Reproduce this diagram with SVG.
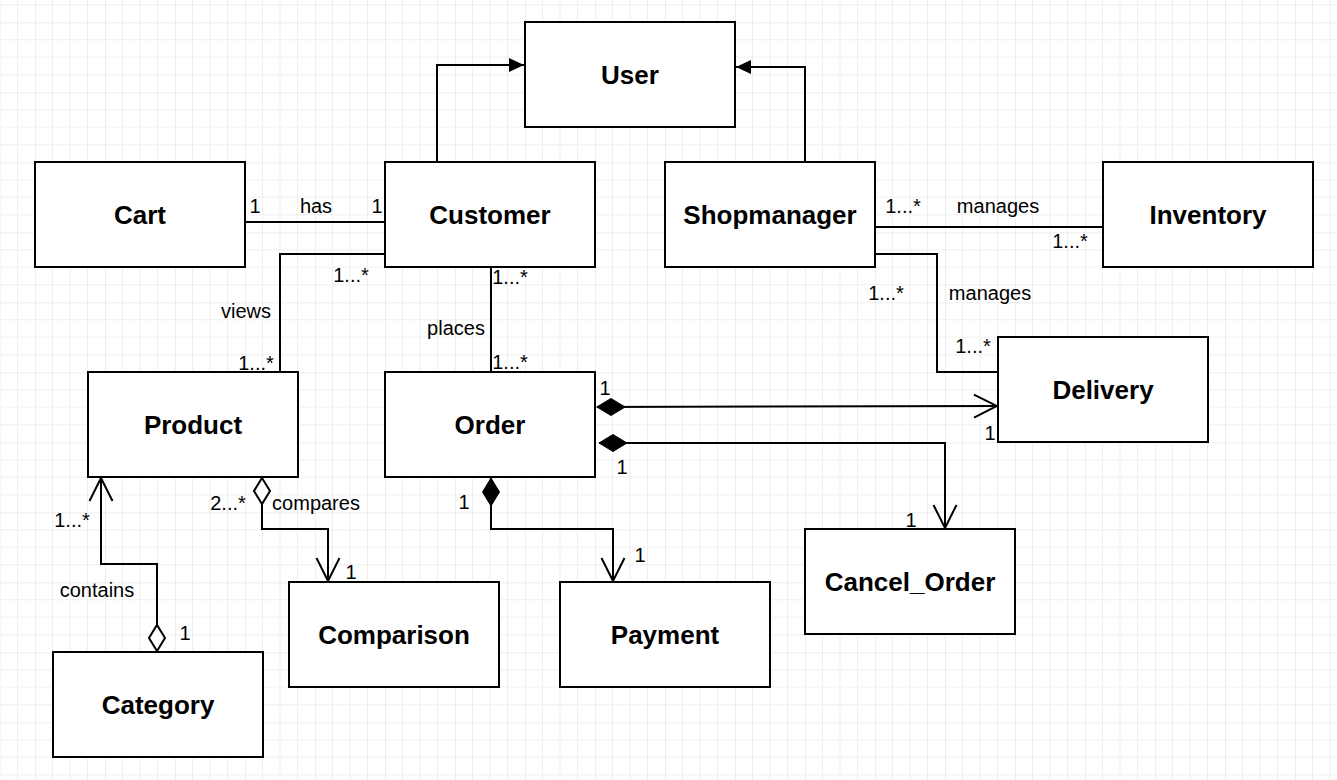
<svg xmlns="http://www.w3.org/2000/svg" width="1337" height="780" viewBox="0 0 1337 780">
<defs>
<pattern id="grid" x="35" y="22.3" width="70" height="70" patternUnits="userSpaceOnUse">
<path d="M17.5,0 V70 M35,0 V70 M52.5,0 V70 M0,17.5 H70 M0,35 H70 M0,52.5 H70" stroke="#efefef" stroke-width="1" fill="none"/>
<path d="M0,0 V70 M0,0 H70" stroke="#dddddd" stroke-width="1" fill="none"/>
</pattern>
<marker id="tri" viewBox="-16 -8 17 16" refX="0" refY="0" markerWidth="17" markerHeight="16" markerUnits="userSpaceOnUse" orient="auto">
<path d="M-15,-7 L0,0 L-15,7 Z" fill="#000"/>
</marker>
<marker id="open" viewBox="-26 -13 28 26" refX="0" refY="0" markerWidth="28" markerHeight="26" markerUnits="userSpaceOnUse" orient="auto">
<path d="M-23,-11.5 L0,0 L-23,11.5" fill="none" stroke="#000" stroke-width="2"/>
</marker>
<marker id="fdia" viewBox="-1 -10 31 20" refX="0" refY="0" markerWidth="31" markerHeight="20" markerUnits="userSpaceOnUse" orient="auto">
<path d="M0,0 L14,-8.5 L28,0 L14,8.5 Z" fill="#000" stroke="#000" stroke-width="1"/>
</marker>
<marker id="odia" viewBox="-2 -10 30 20" refX="0" refY="0" markerWidth="30" markerHeight="20" markerUnits="userSpaceOnUse" orient="auto">
<path d="M0,0 L13,-8 L26,0 L13,8 Z" fill="#fff" stroke="#000" stroke-width="2"/>
</marker>
</defs>
<style>
.box{fill:#fff;stroke:#000;stroke-width:2}
.nl{font-family:"Liberation Sans",Arial,sans-serif;font-weight:bold;font-size:26px;text-anchor:middle;fill:#000}
.el{font-family:"Liberation Sans",Arial,sans-serif;font-size:20px;text-anchor:middle;fill:#000}
.c{fill:none;stroke:#000;stroke-width:2}
</style>
<rect width="1337" height="780" fill="#fff"/>
<rect width="1337" height="780" fill="url(#grid)"/>

<g id="connectors">
<path class="c" d="M437,162 V65 H524" marker-end="url(#tri)"/>
<path class="c" d="M805,162 V67 H736" marker-end="url(#tri)"/>
<path class="c" d="M245,222 H385"/>
<path class="c" d="M385,254 H280 V372"/>
<path class="c" d="M491,267 V372"/>
<path class="c" d="M875,227 H1103"/>
<path class="c" d="M875,254 H937 V372 H998"/>
<path class="c" d="M597,407 L997,406" marker-start="url(#fdia)" marker-end="url(#open)"/>
<path class="c" d="M599,443 H945 V528" marker-start="url(#fdia)" marker-end="url(#open)"/>
<path class="c" d="M491,478 V529 H613 V581" marker-start="url(#fdia)" marker-end="url(#open)"/>
<path class="c" d="M262,478 V529 H328 V581" marker-start="url(#odia)" marker-end="url(#open)"/>
<path class="c" d="M157,651 V564 H101 V478" marker-start="url(#odia)" marker-end="url(#open)"/>
</g>

<g id="edge-labels">
<text class="el" x="255" y="213">1</text>
<text class="el" x="316" y="213">has</text>
<text class="el" x="377" y="213">1</text>
<text class="el" x="351" y="282">1...*</text>
<text class="el" x="246" y="318">views</text>
<text class="el" x="256" y="370">1...*</text>
<text class="el" x="510" y="284">1...*</text>
<text class="el" x="456" y="335">places</text>
<text class="el" x="510" y="369">1...*</text>
<text class="el" x="903" y="213">1...*</text>
<text class="el" x="998" y="213">manages</text>
<text class="el" x="1070" y="248">1...*</text>
<text class="el" x="886" y="300">1...*</text>
<text class="el" x="990" y="300">manages</text>
<text class="el" x="973" y="353">1...*</text>
<text class="el" x="605" y="395">1</text>
<text class="el" x="990" y="440">1</text>
<text class="el" x="622" y="474">1</text>
<text class="el" x="911" y="527">1</text>
<text class="el" x="464" y="509">1</text>
<text class="el" x="640" y="562">1</text>
<text class="el" x="228" y="510">2...*</text>
<text class="el" x="316" y="510">compares</text>
<text class="el" x="351" y="579">1</text>
<text class="el" x="72" y="527">1...*</text>
<text class="el" x="97" y="597">contains</text>
<text class="el" x="185" y="640">1</text>
</g>

<g id="User"><rect class="box" x="525" y="22" width="210" height="105"/><text class="nl" x="630" y="84">User</text></g>
<g id="Cart"><rect class="box" x="35" y="162" width="210" height="105"/><text class="nl" x="140" y="224">Cart</text></g>
<g id="Customer"><rect class="box" x="385" y="162" width="210" height="105"/><text class="nl" x="490" y="224">Customer</text></g>
<g id="Shopmanager"><rect class="box" x="665" y="162" width="210" height="105"/><text class="nl" x="770" y="224">Shopmanager</text></g>
<g id="Inventory"><rect class="box" x="1103" y="162" width="210" height="105"/><text class="nl" x="1208" y="224">Inventory</text></g>
<g id="Product"><rect class="box" x="88" y="372" width="210" height="105"/><text class="nl" x="193" y="434">Product</text></g>
<g id="Order"><rect class="box" x="385" y="372" width="210" height="105"/><text class="nl" x="490" y="434">Order</text></g>
<g id="Delivery"><rect class="box" x="998" y="337" width="210" height="105"/><text class="nl" x="1103" y="399">Delivery</text></g>
<g id="Cancel_Order"><rect class="box" x="805" y="529" width="210" height="105"/><text class="nl" x="910" y="591">Cancel_Order</text></g>
<g id="Comparison"><rect class="box" x="289" y="582" width="210" height="105"/><text class="nl" x="394" y="644">Comparison</text></g>
<g id="Payment"><rect class="box" x="560" y="582" width="210" height="105"/><text class="nl" x="665" y="644">Payment</text></g>
<g id="Category"><rect class="box" x="53" y="652" width="210" height="105"/><text class="nl" x="158" y="714">Category</text></g>
</svg>
